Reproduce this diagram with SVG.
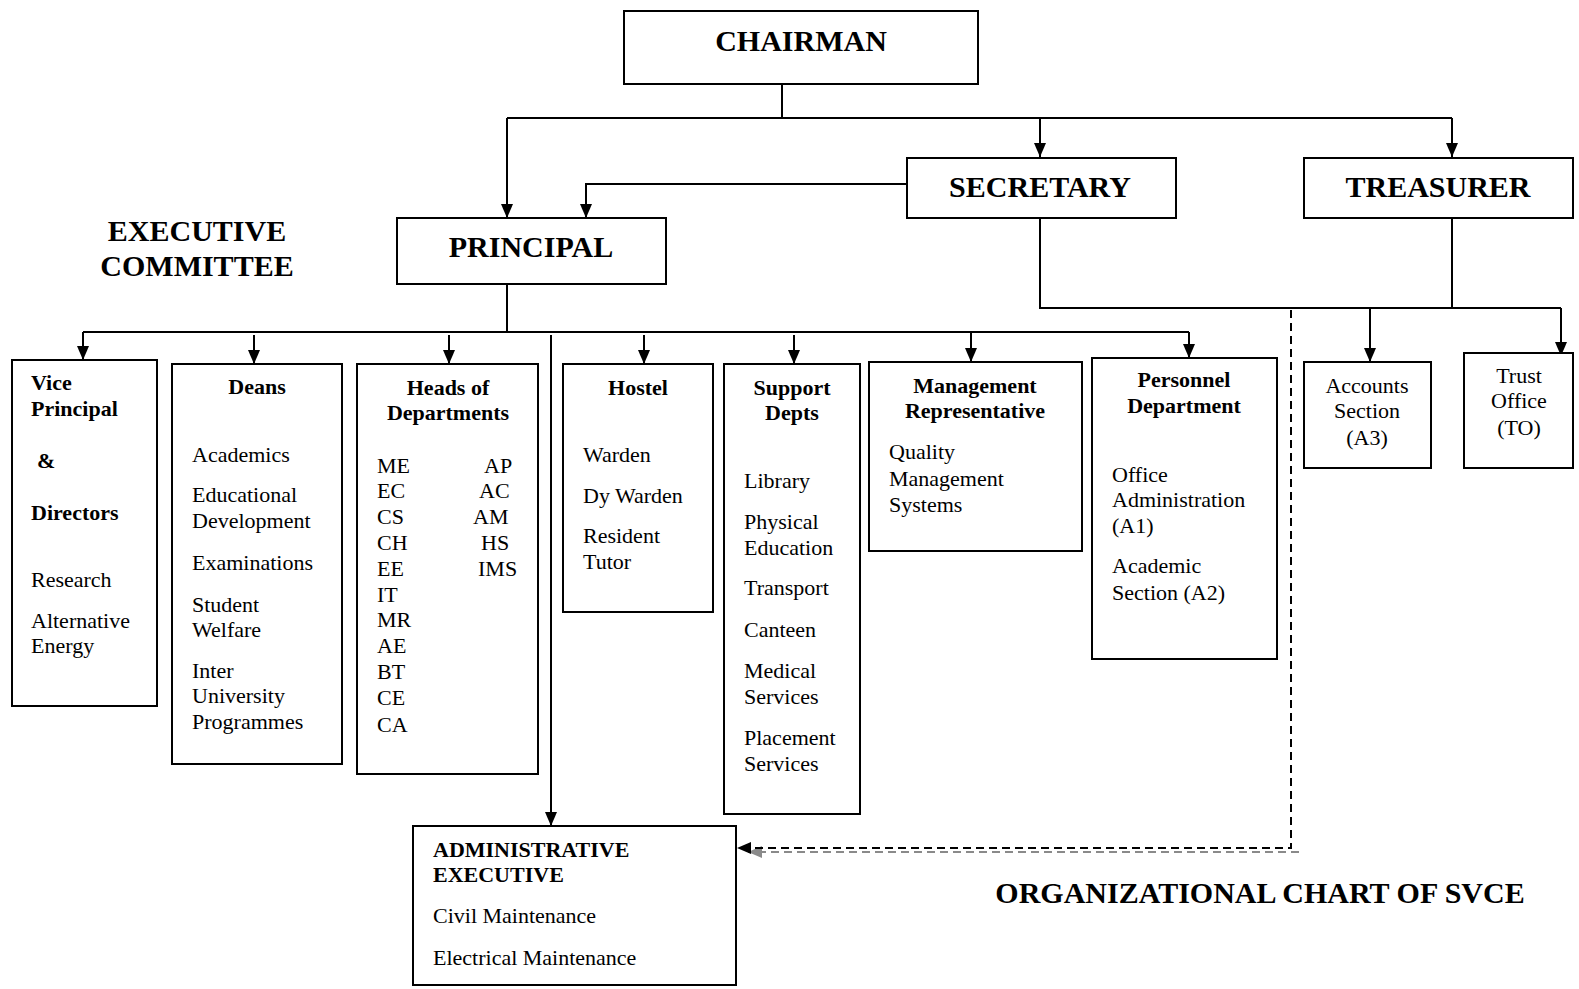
<svg xmlns="http://www.w3.org/2000/svg" width="1579" height="989" viewBox="0 0 1579 989">
<style>
.box{fill:#fff;stroke:#000;stroke-width:2}
.ln{fill:none;stroke:#000;stroke-width:2}
.dash{fill:none;stroke:#000;stroke-width:2;stroke-dasharray:8,5}
.dashg{fill:none;stroke:#8a8a8a;stroke-width:2;stroke-dasharray:8,5}
text{font-family:"Liberation Serif","Times New Roman",serif;fill:#000}
.h{font-size:30px;font-weight:bold;text-anchor:middle}
.b{font-size:22px;font-weight:bold}
.c{text-anchor:middle}
.t{font-size:22px}
</style>
<defs>
<marker id="ah" markerUnits="userSpaceOnUse" markerWidth="14" markerHeight="12" refX="14" refY="6" orient="auto" viewBox="0 0 14 12">
<path d="M0,0 L14,6 L0,12 z" fill="#000"/>
</marker>
<marker id="ahg" markerUnits="userSpaceOnUse" markerWidth="14" markerHeight="12" refX="14" refY="6" orient="auto" viewBox="0 0 14 12">
<path d="M0,0 L14,6 L0,12 z" fill="#8a8a8a"/>
</marker>
</defs>

<g id="connectors">
<polyline class="ln" points="782,84 782,118"/>
<polyline class="ln" points="507,118 1452,118"/>
<polyline class="ln" points="507,118 507,218" marker-end="url(#ah)"/>
<polyline class="ln" points="1040,118 1040,157" marker-end="url(#ah)"/>
<polyline class="ln" points="1452,118 1452,157" marker-end="url(#ah)"/>
<polyline class="ln" points="907,184 586,184 586,218" marker-end="url(#ah)"/>
<polyline class="ln" points="507,284 507,332"/>
<polyline class="ln" points="83,332 1189,332"/>
<polyline class="ln" points="83,332 83,360" marker-end="url(#ah)"/>
<polyline class="ln" points="254,335 254,364" marker-end="url(#ah)"/>
<polyline class="ln" points="449,335 449,364" marker-end="url(#ah)"/>
<polyline class="ln" points="644,335 644,364" marker-end="url(#ah)"/>
<polyline class="ln" points="794,335 794,364" marker-end="url(#ah)"/>
<polyline class="ln" points="971,332 971,362" marker-end="url(#ah)"/>
<polyline class="ln" points="1189,332 1189,358" marker-end="url(#ah)"/>
<polyline class="ln" points="551,335 551,826" marker-end="url(#ah)"/>
<polyline class="ln" points="1040,218 1040,308 1561,308"/>
<polyline class="ln" points="1452,218 1452,308"/>
<polyline class="ln" points="1370,308 1370,362" marker-end="url(#ah)"/>
<polyline class="ln" points="1561,308 1561,356" marker-end="url(#ah)"/>
<polyline class="dashg" points="1299,852 748,852" marker-end="url(#ahg)"/>
<polyline class="dash" points="1291,310 1291,848 737,848" marker-end="url(#ah)"/>
</g>

<g id="chairman">
<rect class="box" x="624" y="11" width="354" height="73"/>
<text class="h" x="801" y="51">CHAIRMAN</text>
</g>
<g id="secretary">
<rect class="box" x="907" y="158" width="269" height="60"/>
<text class="h" x="1040" y="197">SECRETARY</text>
</g>
<g id="treasurer">
<rect class="box" x="1304" y="158" width="269" height="60"/>
<text class="h" x="1438" y="197">TREASURER</text>
</g>
<g id="principal">
<rect class="box" x="397" y="218" width="269" height="66"/>
<text class="h" x="531" y="257">PRINCIPAL</text>
</g>
<g id="executive-committee">
<text class="h" x="197" y="241">EXECUTIVE</text>
<text class="h" x="197" y="276">COMMITTEE</text>
</g>

<g id="vice-principal">
<rect class="box" x="12" y="360" width="145" height="346"/>
<text class="b" x="31" y="390">Vice</text>
<text class="b" x="31" y="416">Principal</text>
<text class="b" x="37" y="468">&amp;</text>
<text class="b" x="31" y="520">Directors</text>
<text class="t" x="31" y="587">Research</text>
<text class="t" x="31" y="628">Alternative</text>
<text class="t" x="31" y="653">Energy</text>
</g>

<g id="deans">
<rect class="box" x="172" y="364" width="170" height="400"/>
<text class="b c" x="257" y="394">Deans</text>
<text class="t" x="192" y="462">Academics</text>
<text class="t" x="192" y="502">Educational</text>
<text class="t" x="192" y="528">Development</text>
<text class="t" x="192" y="570">Examinations</text>
<text class="t" x="192" y="612">Student</text>
<text class="t" x="192" y="637">Welfare</text>
<text class="t" x="192" y="678">Inter</text>
<text class="t" x="192" y="703">University</text>
<text class="t" x="192" y="729">Programmes</text>
</g>

<g id="heads-of-departments">
<rect class="box" x="357" y="364" width="181" height="410"/>
<text class="b c" x="448" y="395">Heads of</text>
<text class="b c" x="448" y="420">Departments</text>
<text class="t" x="377" y="473">ME</text>
<text class="t" x="377" y="498">EC</text>
<text class="t" x="377" y="524">CS</text>
<text class="t" x="377" y="550">CH</text>
<text class="t" x="377" y="576">EE</text>
<text class="t" x="377" y="602">IT</text>
<text class="t" x="377" y="627">MR</text>
<text class="t" x="377" y="653">AE</text>
<text class="t" x="377" y="679">BT</text>
<text class="t" x="377" y="705">CE</text>
<text class="t" x="377" y="732">CA</text>
<text class="t" x="484" y="473">AP</text>
<text class="t" x="479" y="498">AC</text>
<text class="t" x="473" y="524">AM</text>
<text class="t" x="481" y="550">HS</text>
<text class="t" x="478" y="576">IMS</text>
</g>

<g id="hostel">
<rect class="box" x="563" y="364" width="150" height="248"/>
<text class="b c" x="638" y="395">Hostel</text>
<text class="t" x="583" y="462">Warden</text>
<text class="t" x="583" y="503">Dy Warden</text>
<text class="t" x="583" y="543">Resident</text>
<text class="t" x="583" y="569">Tutor</text>
</g>

<g id="support-depts">
<rect class="box" x="724" y="364" width="136" height="450"/>
<text class="b c" x="792" y="395">Support</text>
<text class="b c" x="792" y="420">Depts</text>
<text class="t" x="744" y="488">Library</text>
<text class="t" x="744" y="529">Physical</text>
<text class="t" x="744" y="555">Education</text>
<text class="t" x="744" y="595">Transport</text>
<text class="t" x="744" y="637">Canteen</text>
<text class="t" x="744" y="678">Medical</text>
<text class="t" x="744" y="704">Services</text>
<text class="t" x="744" y="745">Placement</text>
<text class="t" x="744" y="771">Services</text>
</g>

<g id="management-representative">
<rect class="box" x="869" y="362" width="213" height="189"/>
<text class="b c" x="975" y="393">Management</text>
<text class="b c" x="975" y="418">Representative</text>
<text class="t" x="889" y="459">Quality</text>
<text class="t" x="889" y="486">Management</text>
<text class="t" x="889" y="512">Systems</text>
</g>

<g id="personnel-department">
<rect class="box" x="1092" y="358" width="185" height="301"/>
<text class="b c" x="1184" y="387">Personnel</text>
<text class="b c" x="1184" y="413">Department</text>
<text class="t" x="1112" y="482">Office</text>
<text class="t" x="1112" y="507">Administration</text>
<text class="t" x="1112" y="533">(A1)</text>
<text class="t" x="1112" y="573">Academic</text>
<text class="t" x="1112" y="600">Section (A2)</text>
</g>

<g id="accounts-section">
<rect class="box" x="1304" y="362" width="127" height="106"/>
<text class="t c" x="1367" y="393">Accounts</text>
<text class="t c" x="1367" y="418">Section</text>
<text class="t c" x="1367" y="445">(A3)</text>
</g>

<g id="trust-office">
<rect class="box" x="1464" y="353" width="109" height="115"/>
<text class="t c" x="1519" y="383">Trust</text>
<text class="t c" x="1519" y="408">Office</text>
<text class="t c" x="1519" y="435">(TO)</text>
</g>

<g id="administrative-executive">
<rect class="box" x="413" y="826" width="323" height="159"/>
<text class="b" x="433" y="857">ADMINISTRATIVE</text>
<text class="b" x="433" y="882">EXECUTIVE</text>
<text class="t" x="433" y="923">Civil Maintenance</text>
<text class="t" x="433" y="965">Electrical Maintenance</text>
</g>

<g id="title">
<text class="h" x="1260" y="903">ORGANIZATIONAL CHART OF SVCE</text>
</g>
</svg>
